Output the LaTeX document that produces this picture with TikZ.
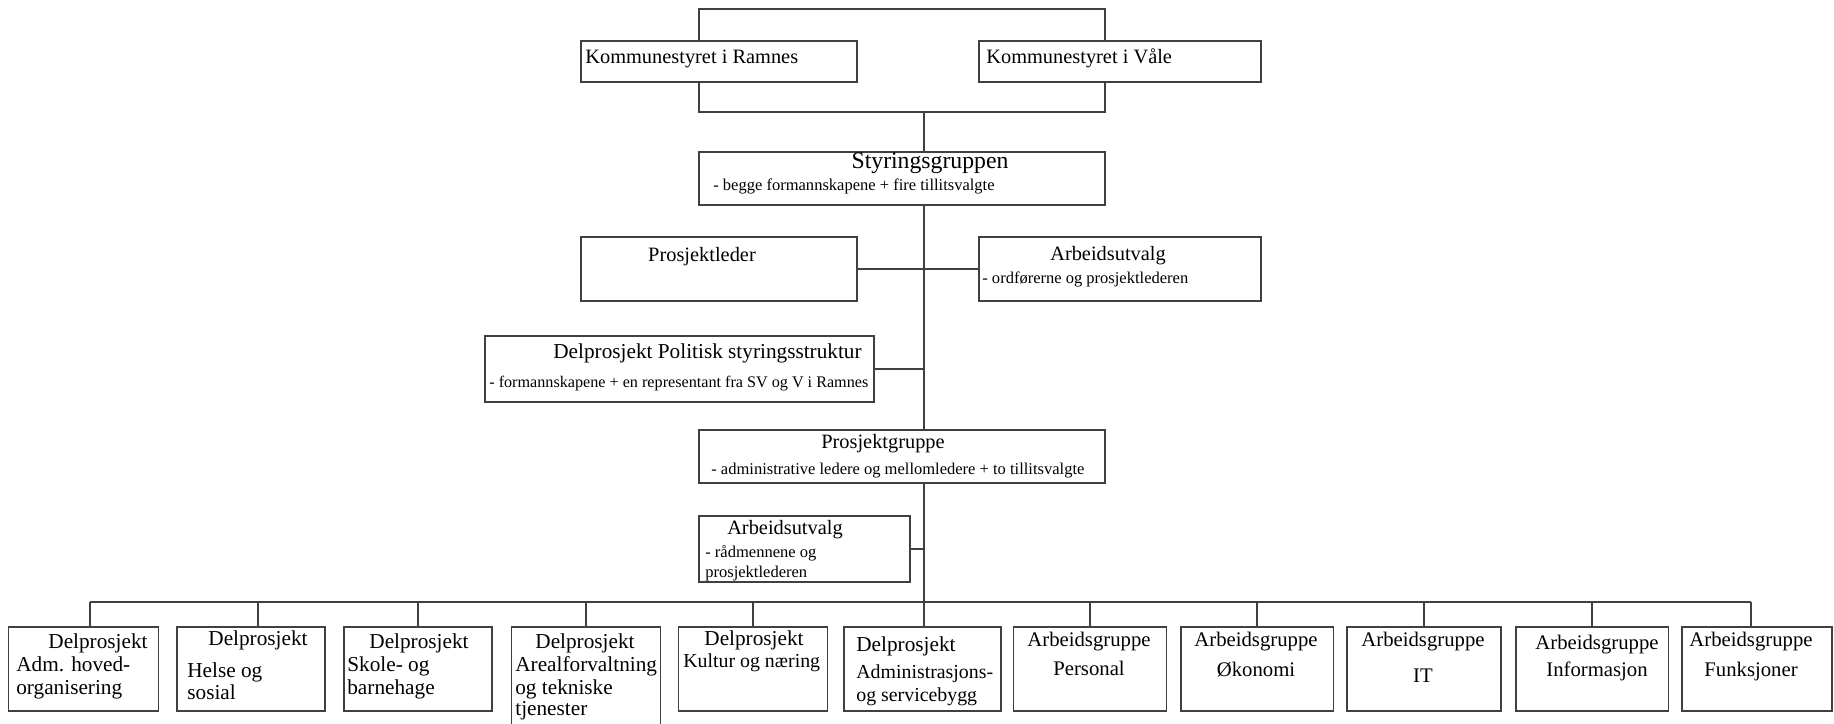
\documentclass[tikz,border=0pt]{standalone}
\usepackage{fontspec}
\setmainfont{Liberation Serif}
\usetikzlibrary{positioning}
\tikzset{
  box/.style={draw=black!75, line width=1.1pt, rectangle, inner sep=0pt, outer sep=0pt},
  link/.style={draw=black!75, line width=1.1pt},
  head/.style={inner sep=0pt, font=\fontsize{11.6}{13}\selectfont},
  note/.style={inner sep=0pt, font=\fontsize{9.4}{11}\selectfont},
  delp/.style={inner sep=0pt, font=\fontsize{12.1}{14}\selectfont},
  delpw/.style={inner sep=0pt, font=\fontsize{11.3}{14}\selectfont},
  agrp/.style={inner sep=0pt, font=\fontsize{11.8}{14}\selectfont}
}

\begin{document}
\begin{tikzpicture}[x=0.02cm, y=-0.02cm]
  \useasboundingbox (0,0) rectangle (1834,723);
  \clip (0,0) rectangle (1834,723);

  % top levels
  \node[box, minimum width=5.52cm, minimum height=0.82cm] (ramnes) at (719,61.5) {};
  \node[box, minimum width=5.64cm, minimum height=0.82cm] (vale) at (1120,61.5) {};
  \node[box, minimum width=8.12cm, minimum height=1.06cm] (styr) at (902,178.5) {};
  \node[box, minimum width=5.52cm, minimum height=1.28cm] (lead) at (719,269) {};
  \node[box, minimum width=5.64cm, minimum height=1.28cm] (au) at (1120,269) {};
  \node[box, minimum width=7.78cm, minimum height=1.32cm] (pol) at (679.5,369) {};
  \node[box, minimum width=8.12cm, minimum height=1.06cm] (pg) at (902,456.5) {};
  \node[box, minimum width=4.22cm, minimum height=1.32cm] (au2) at (804.5,549) {};

  \node[head, anchor=mid west] (ramnesT) at (585,59) {Kommunestyret i Ramnes};
  \node[head, anchor=mid west] (valeT) at (986,59) {Kommunestyret i Våle};
  \node[head, anchor=mid, font=\fontsize{13.5}{15}\selectfont] (styrT) at (930,164) {Styringsgruppen};
  \node[note, anchor=mid west] (styrN) at (713,186) {- begge formannskapene + fire tillitsvalgte};
  \node[head, anchor=mid] (leadT) at (702,257) {Prosjektleder};
  \node[head, anchor=mid] (auT) at (1108,256) {Arbeidsutvalg};
  \node[note, anchor=mid west] (auN) at (982,279) {- ordførerne og prosjektlederen};
  \node[head, anchor=mid east, font=\fontsize{12.1}{14}\selectfont] (polT) at (862,354) {Delprosjekt Politisk styringsstruktur};
  \node[note, anchor=mid west, font=\fontsize{9.2}{11}\selectfont] (polN) at (489,383) {- formannskapene + en representant fra SV og V i Ramnes};
  \node[head, anchor=mid] (pgT) at (883,444) {Prosjektgruppe};
  \node[note, anchor=mid west] (pgN) at (711,470) {- administrative ledere og mellomledere + to tillitsvalgte};
  \node[head, anchor=mid] (au2T) at (785,530) {Arbeidsutvalg};
  \node[note, anchor=mid west] (au2N) at (705,553) {- rådmennene og};
  \node[note, anchor=mid west] (au2M) at (705,573) {prosjektlederen};

  % bottom row
  \node[box, minimum width=3.00cm, minimum height=1.68cm] (b1) at (83.5,669) {};
  \node[box, minimum width=2.96cm, minimum height=1.68cm] (b2) at (251,669) {};
  \node[box, minimum width=2.96cm, minimum height=1.68cm] (b3) at (418,669) {};
  \node[box, minimum width=2.98cm, minimum height=2.60cm] (b4) at (586,692) {};
  \node[box, minimum width=2.98cm, minimum height=1.68cm] (b5) at (753,669) {};
  \node[box, minimum width=3.14cm, minimum height=1.68cm] (b6) at (922.5,669) {};
  \node[box, minimum width=3.06cm, minimum height=1.68cm] (b7) at (1090,669) {};
  \node[box, minimum width=3.06cm, minimum height=1.68cm] (b8) at (1257,669) {};
  \node[box, minimum width=3.08cm, minimum height=1.68cm] (b9) at (1424,669) {};
  \node[box, minimum width=3.06cm, minimum height=1.68cm] (b10) at (1592,669) {};
  \node[box, minimum width=3.00cm, minimum height=1.68cm] (b11) at (1757,669) {};

  \node[delp, anchor=mid] (b1a) at (98,644) {Delprosjekt};
  \node[delp, anchor=mid west] (b1b) at (16,667) {Adm. hoved-};
  \node[delp, anchor=mid west] (b1c) at (16,690) {organisering};
  \node[delp, anchor=mid] (b2a) at (258,641) {Delprosjekt};
  \node[delp, anchor=mid west] (b2b) at (187,673) {Helse og};
  \node[delp, anchor=mid west] (b2c) at (187,695) {sosial};
  \node[delp, anchor=mid] (b3a) at (419,644) {Delprosjekt};
  \node[delp, anchor=mid west] (b3b) at (347,667) {Skole- og};
  \node[delp, anchor=mid west] (b3c) at (347,690) {barnehage};
  \node[delp, anchor=mid] (b4a) at (585,644) {Delprosjekt};
  \node[delp, anchor=mid west] (b4b) at (515,667) {Arealforvaltning};
  \node[delp, anchor=mid west] (b4c) at (515,690) {og tekniske};
  \node[delp, anchor=mid west] (b4d) at (515,711) {tjenester};
  \node[delp, anchor=mid] (b5a) at (754,641) {Delprosjekt};
  \node[delpw, anchor=mid west] (b5b) at (683,663) {Kultur og næring};
  \node[delp, anchor=mid west] (b6a) at (856,647) {Delprosjekt};
  \node[delpw, anchor=mid west] (b6b) at (856,674) {Administrasjons-};
  \node[delpw, anchor=mid west] (b6c) at (856,697) {og servicebygg};
  \node[agrp, anchor=mid] (b7a) at (1089,642) {Arbeidsgruppe};
  \node[agrp, anchor=mid] (b7b) at (1089,671) {Personal};
  \node[agrp, anchor=mid] (b8a) at (1256,642) {Arbeidsgruppe};
  \node[agrp, anchor=mid] (b8b) at (1256,672) {Økonomi};
  \node[agrp, anchor=mid] (b9a) at (1423,642) {Arbeidsgruppe};
  \node[agrp, anchor=mid] (b9b) at (1423,678) {IT};
  \node[agrp, anchor=mid] (b10a) at (1597,645) {Arbeidsgruppe};
  \node[agrp, anchor=mid] (b10b) at (1597,672) {Informasjon};
  \node[agrp, anchor=mid] (b11a) at (1751,642) {Arbeidsgruppe};
  \node[agrp, anchor=mid] (b11b) at (1751,672) {Funksjoner};

  % connectors
  \coordinate (roof) at (924,9);
  \coordinate (spine) at (924,112);
  \coordinate (bus) at (924,602);
  \draw[link] (ramnes.north -| styr.west) |- (roof) -| (vale.north -| styr.east);
  \draw[link] (ramnes.south -| styr.west) |- (spine) -| (vale.south -| styr.east);
  \draw[link] (spine) -- (spine |- styr.north);
  \draw[link] (spine |- styr.south) -- (spine |- pg.north);
  \draw[link] (spine |- pg.south) -- (bus);
  \draw[link] (lead.east) -- (au.west);
  \draw[link] (pol.east) -- (pol.east -| spine);
  \draw[link] (au2.east) -- (au2.east -| spine);
  \draw[link] ([xshift=0.13cm]b1.north |- bus) -- ([xshift=-0.12cm]b11.north |- bus);
  \foreach \b/\dx in {b1/0.13,b2/0.14,b3/0,b4/0,b5/0,b6/0.03,b7/0,b8/0,b9/0,b10/0,b11/-0.12}
    \draw[link] ([xshift=\dx cm]\b.north) -- ([xshift=\dx cm]\b.north |- bus);
\end{tikzpicture}
\end{document}
